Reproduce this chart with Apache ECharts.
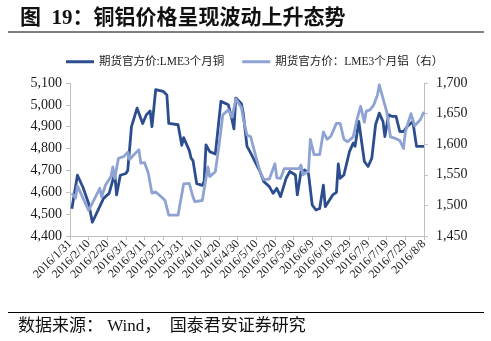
<!DOCTYPE html>
<html>
<head>
<meta charset="utf-8">
<script src="https://cdn.jsdelivr.net/npm/echarts@6/dist/echarts.min.js"></script>
<style>
  html, body { margin: 0; padding: 0; background: #fff; }
  #chart { width: 491px; height: 341px; }
</style>
</head>
<body>
<div id="chart"></div>
<script>
// LME 3-month copper and aluminium official prices, 2016 (USD/t)
const YEAR = 2016;
const AXIS_START = '1/31';
const AXIS_END = '8/8';
const TICK_DAYS = 10;

const seriesNames = ['期货官方价:LME3个月铜', '期货官方价：LME3个月铝（右）'];

const copperDates = [
  '2/1', '2/4', '2/7', '2/10', '2/12', '2/15', '2/18', '2/21', '2/24', '2/25', '2/27',
  '3/1', '3/2', '3/4', '3/7', '3/10', '3/12', '3/14', '3/15', '3/17', '3/21', '3/23', '3/24',
  '3/29', '3/30', '3/31', '4/1', '4/4', '4/5', '4/6', '4/8', '4/11', '4/12', '4/13', '4/15',
  '4/18', '4/21', '4/25', '4/27', '4/28', '4/29', '5/2', '5/3', '5/5', '5/6', '5/7', '5/12',
  '5/14', '5/17', '5/19', '5/21', '5/23', '5/26', '5/28', '5/31', '6/1', '6/3', '6/5', '6/7',
  '6/9', '6/11', '6/13', '6/15', '6/16', '6/20', '6/22', '6/23', '6/24', '6/26', '6/29',
  '7/1', '7/2', '7/4', '7/7', '7/9', '7/11', '7/13', '7/15', '7/17', '7/18', '7/20', '7/22',
  '7/24', '7/26', '7/28', '7/30', '8/2', '8/4', '8/8'
];
const copperPrices = [
  4525, 4678, 4622, 4549, 4463, 4517, 4572, 4595, 4686, 4588, 4678,
  4686, 4700, 4900, 4985, 4915, 4955, 4972, 4900, 5070, 5062, 5045, 4915,
  4909, 4905, 4815, 4850, 4792, 4756, 4745, 4640, 4632, 4650, 4817, 4786,
  4775, 5016, 5000, 4930, 4890, 5031, 5005, 4960, 4810, 4795, 4779, 4695,
  4649, 4626, 4595, 4618, 4580, 4664, 4695, 4679, 4588, 4695, 4702, 4685,
  4542, 4519, 4526, 4633, 4534, 4588, 4600, 4730, 4664, 4679, 4786,
  4825, 4810, 4924, 4741, 4718, 4756, 4909, 4962, 4924, 4855, 4955, 4947,
  4947, 4878, 4878, 4901, 4924, 4810, 4810
];

const aluminiumDates = [
  '2/1', '2/3', '2/4', '2/10', '2/11', '2/16', '2/17', '2/19', '2/22', '2/23', '2/24', '2/26',
  '2/29', '3/2', '3/3', '3/5', '3/8', '3/9', '3/11', '3/13', '3/15', '3/17', '3/20', '3/22',
  '3/24', '3/29', '3/30', '4/1', '4/4', '4/6', '4/7', '4/11', '4/14', '4/15', '4/18', '4/20',
  '4/22', '4/25', '4/27', '4/29', '5/2', '5/3', '5/5', '5/7', '5/10', '5/12', '5/14', '5/17',
  '5/20', '5/21', '5/23', '5/25', '5/30', '6/2', '6/3', '6/4', '6/7', '6/8', '6/10', '6/13',
  '6/15', '6/17', '6/19', '6/22', '6/24', '6/26', '6/28', '7/1', '7/3', '7/5', '7/7', '7/8',
  '7/10', '7/12', '7/14', '7/15', '7/17', '7/19', '7/21', '7/24', '7/26', '7/28', '7/29',
  '8/1', '8/2', '8/3', '8/6', '8/8'
];
const aluminiumPrices = [
  1520, 1512, 1532, 1492, 1490, 1528, 1514, 1533, 1547, 1563, 1544, 1577,
  1580, 1587, 1575, 1582, 1591, 1569, 1570, 1553, 1520, 1522, 1514, 1508,
  1484, 1484, 1481, 1535, 1536, 1514, 1506, 1508, 1563, 1547, 1555, 1598,
  1648, 1656, 1644, 1674, 1660, 1642, 1615, 1612, 1577, 1555, 1542, 1543,
  1568, 1545, 1544, 1560, 1560, 1560, 1566, 1550, 1556, 1608, 1583, 1583,
  1620, 1608, 1613, 1634, 1634, 1608, 1604, 1612, 1640, 1662, 1636, 1654,
  1656, 1664, 1680, 1697, 1675, 1653, 1612, 1609, 1606, 1593, 1620,
  1650, 1653, 1630, 1640, 1653
];

// x positions are whole days counted from the first axis date
const DAY_MS = 86400000;
function toUTC(md) {
  const [m, d] = md.split('/').map(Number);
  return Date.UTC(YEAR, m - 1, d);
}
const originUTC = toUTC(AXIS_START);
const dayOffset = md => Math.round((toUTC(md) - originUTC) / DAY_MS);
const offsetLabel = n => {
  const dt = new Date(originUTC + n * DAY_MS);
  return dt.getUTCFullYear() + '/' + (dt.getUTCMonth() + 1) + '/' + dt.getUTCDate();
};
const thousands = v => String(v).replace(/\B(?=(\d{3})+(?!\d))/g, ',');

const copperData = copperDates.map((d, i) => [dayOffset(d), copperPrices[i]]);
const aluminiumData = aluminiumDates.map((d, i) => [dayOffset(d), aluminiumPrices[i]]);

const SERIF = '"Liberation Serif", "Noto Sans CJK SC", serif';
const TEXT = '#1a1a1a';
const AXIS_GREY = '#bfbfbf';
const DARK_BLUE = '#2c4d8e';
const LIGHT_BLUE = '#8ea3d3';

const chart = echarts.init(document.getElementById('chart'), null, { renderer: 'canvas' });

const valueAxisBase = {
  type: 'value',
  splitLine: { show: false },
  axisLine: { show: true, lineStyle: { color: AXIS_GREY, width: 1 } },
  axisTick: { show: true, length: 4, lineStyle: { color: AXIS_GREY } },
  axisLabel: {
    color: TEXT, fontFamily: SERIF, fontSize: 14,
    formatter: thousands
  }
};

chart.setOption({
  animation: false,
  backgroundColor: '#fff',
  graphic: [
    {
      type: 'text', left: 20, top: 8,
      style: {
        text: '图  19：铜铝价格呈现波动上升态势',
        font: 'bold 21px "Liberation Serif", "Noto Sans CJK SC", sans-serif',
        fill: '#111'
      }
    },
    {
      type: 'line', shape: { x1: 8, y1: 32, x2: 484, y2: 32 },
      style: { stroke: '#000', lineWidth: 1.2 }
    },
    {
      type: 'line', shape: { x1: 8, y1: 312.5, x2: 484, y2: 312.5 },
      style: { stroke: '#000', lineWidth: 1.2 }
    },
    {
      type: 'text', left: 18, top: 318,
      style: {
        text: '数据来源： Wind，  国泰君安证券研究',
        font: '17px "Liberation Serif", "Noto Sans CJK SC", serif',
        fill: '#111'
      }
    }
  ],
  legend: {
    left: 61, top: 51,
    itemWidth: 28, itemHeight: 3, itemGap: 18,
    icon: 'rect',
    textStyle: { color: TEXT, fontFamily: SERIF, fontSize: 11.5, padding: [0, 0, 0, 0] },
    data: seriesNames
  },
  grid: { left: 70, right: 67, top: 83, bottom: 105, containLabel: false },
  xAxis: {
    type: 'value',
    min: 0, max: dayOffset(AXIS_END), interval: TICK_DAYS,
    splitLine: { show: false },
    axisLine: { show: true, lineStyle: { color: AXIS_GREY, width: 1 } },
    axisTick: { show: true, length: 4, lineStyle: { color: AXIS_GREY } },
    axisLabel: {
      rotate: 45, margin: 6, color: TEXT, fontFamily: SERIF, fontSize: 12,
      showMinLabel: true, showMaxLabel: true, hideOverlap: false,
      formatter: offsetLabel
    }
  },
  yAxis: [
    Object.assign({}, valueAxisBase, { min: 4400, max: 5100, interval: 100, position: 'left' }),
    Object.assign({}, valueAxisBase, { min: 1450, max: 1700, interval: 50, position: 'right',
      axisLabel: Object.assign({}, valueAxisBase.axisLabel, { margin: 12 }) })
  ],
  series: [
    {
      name: seriesNames[0], type: 'line', yAxisIndex: 0,
      data: copperData, symbol: 'none', smooth: false,
      lineStyle: { color: DARK_BLUE, width: 2.8, join: 'round' },
      itemStyle: { color: DARK_BLUE }
    },
    {
      name: seriesNames[1], type: 'line', yAxisIndex: 1,
      data: aluminiumData, symbol: 'none', smooth: false,
      lineStyle: { color: LIGHT_BLUE, width: 2.8, join: 'round' },
      itemStyle: { color: LIGHT_BLUE }
    }
  ]
});
</script>
</body>
</html>
